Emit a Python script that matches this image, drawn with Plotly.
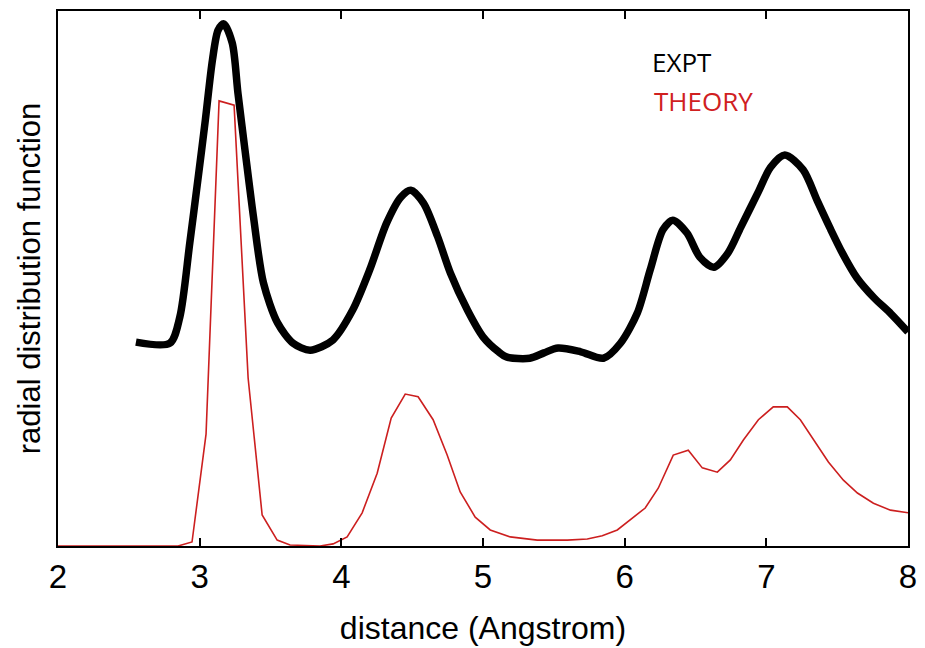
import plotly.graph_objects as go

# Experimental RDF (arbitrary units, 0-100 scale)
expt_x = [2.55, 2.79, 2.86, 2.93, 2.99, 3.04, 3.09, 3.13, 3.17, 3.23, 3.27, 3.32, 3.38, 3.45,
          3.55, 3.66, 3.78, 3.94, 4.08, 4.20, 4.32, 4.42, 4.49, 4.58, 4.68, 4.77, 4.89, 5.00,
          5.11, 5.17, 5.33, 5.43, 5.53, 5.69, 5.85, 5.97, 6.09, 6.18, 6.27, 6.34, 6.44, 6.53,
          6.63, 6.73, 6.82, 6.94, 7.03, 7.13, 7.26, 7.36, 7.45, 7.54, 7.64, 7.76, 7.88, 8.0]
expt_y = [38.1, 37.9, 42.8, 56.6, 69.0, 79.6, 90.8, 96.4, 97.6, 94.0, 84.7, 74.0, 61.5, 49.2,
          41.7, 37.9, 36.6, 38.5, 44.1, 51.6, 60.4, 65.2, 66.5, 64.1, 57.8, 51.0, 44.1, 39.1,
          36.3, 35.3, 35.1, 36.1, 37.0, 36.3, 35.1, 37.9, 43.6, 51.6, 59.1, 60.9, 58.5, 54.0,
          52.1, 54.8, 59.6, 66.0, 70.8, 73.1, 70.3, 64.5, 59.4, 54.6, 50.1, 46.4, 43.4, 40.0]

# Theoretical RDF
theory_x = [2.0, 2.847, 2.946, 3.045, 3.137, 3.243, 3.342, 3.441, 3.547, 3.638, 3.85, 3.942,
            4.041, 4.147, 4.253, 4.352, 4.451, 4.542, 4.648, 4.747, 4.839, 4.945, 5.051, 5.192,
            5.383, 5.595, 5.736, 5.842, 5.948, 6.040, 6.145, 6.237, 6.343, 6.449, 6.548, 6.654,
            6.746, 6.838, 6.944, 7.049, 7.148, 7.240, 7.346, 7.438, 7.544, 7.643, 7.756, 7.876, 8.0]
theory_y = [0.0, 0.0, 0.75, 20.9, 83.2, 82.4, 31.4, 5.8, 1.1, 0.2, 0.0, 0.4,
            1.7, 6.2, 13.6, 23.9, 28.4, 27.9, 23.6, 17.0, 10.1, 5.4, 3.0, 1.7,
            1.1, 1.1, 1.3, 1.9, 3.0, 4.9, 7.1, 10.8, 17.0, 17.9, 14.6, 13.8,
            16.1, 19.8, 23.6, 26.0, 26.0, 23.6, 19.4, 15.7, 12.3, 9.9, 8.0, 6.7, 6.2]

x_ticks = [2, 3, 4, 5, 6, 7, 8]

fig = go.Figure()
fig.add_trace(go.Scatter(x=theory_x, y=theory_y, mode="lines",
                         line=dict(color="#cc1f1f", width=1.6), name="THEORY"))
fig.add_trace(go.Scatter(x=expt_x, y=expt_y, mode="lines", line_shape="spline",
                         line=dict(color="black", width=7.5, smoothing=0.8), name="EXPT"))

fig.add_annotation(x=6.18, y=90.5, text="EXPT", showarrow=False, xanchor="left", yanchor="middle",
                   font=dict(family="Open Sans", size=26, color="black"))
fig.add_annotation(x=6.19, y=83.2, text="THEORY", showarrow=False, xanchor="left", yanchor="middle",
                   font=dict(family="Open Sans", size=26, color="#d0201f"))

fig.update_layout(
    width=925, height=648,
    margin=dict(l=58, r=17, t=11, b=102),
    paper_bgcolor="white", plot_bgcolor="white",
    showlegend=False,
    font=dict(family="Liberation Sans, Arial", color="black"),
    xaxis=dict(range=[2, 8], tickvals=x_ticks, ticks="inside", ticklen=8, tickwidth=1.5,
               tickcolor="black", showline=True, linecolor="black", linewidth=2, mirror="ticks",
               showgrid=False, zeroline=False, tickfont=dict(size=33), automargin=False,
               title=dict(text="distance (Angstrom)", font=dict(size=32), standoff=23)),
    yaxis=dict(range=[0, 100], showticklabels=False, ticks="", showline=True, linecolor="black",
               linewidth=2, mirror=True, showgrid=False, zeroline=False, automargin=False,
               title=dict(text="radial distribution function", font=dict(size=31), standoff=6)),
)

fig.write_html("out.html")
